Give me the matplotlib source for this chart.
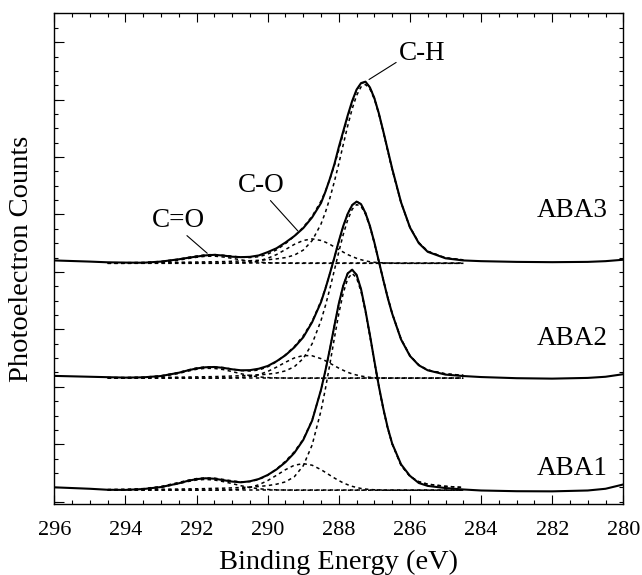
import matplotlib
matplotlib.use("Agg")
import matplotlib.pyplot as plt
import numpy as np
from matplotlib.ticker import MultipleLocator, NullFormatter

plt.rcParams['font.family'] = ['Liberation Serif', 'DejaVu Serif']

# binding energy grid of the measured spectra (eV)
energy = [296, 295, 294.5, 294, 293.5, 293, 292.5, 292.25, 292, 291.75, 291.5,
          291.25, 291, 290.75, 290.5, 290.25, 290, 289.75, 289.5, 289.25, 289,
          288.75, 288.5, 288.375, 288.25, 288.125, 288, 287.875, 287.75, 287.625,
          287.5, 287.375, 287.25, 287.125, 287, 286.875, 286.75, 286.625, 286.5,
          286.25, 286, 285.75, 285.5, 285, 284.5, 284, 283, 282, 281, 280.5, 280]

# energy range of the peak fit (294.5 ... 284.5)
fit_energy = energy[2:45]

# measured spectra (counts, offset per sample)
aba3 = [16.8, 16.72,
        16.67, 16.65, 16.64, 16.72, 16.88, 16.98, 17.07, 17.15, 17.19, 17.14,
        17.06, 17.03, 17.05, 17.15, 17.38, 17.65, 18.05, 18.5, 19.05, 19.8,
        20.8, 21.6, 22.5, 23.5, 24.7, 25.8, 26.9, 27.9, 28.7, 29.15,
        29.25, 28.85, 28.1, 27.05, 25.8, 24.5, 23.2, 20.85, 19.1, 18.0,
        17.4, 16.95, 16.8,
        16.75, 16.7, 16.68, 16.7, 16.75, 16.85]
aba2 = [8.76, 8.7,
        8.67, 8.64, 8.66, 8.75, 8.98, 9.14, 9.28, 9.36, 9.38, 9.32,
        9.22, 9.15, 9.16, 9.26, 9.45, 9.78, 10.2, 10.75, 11.45, 12.5,
        13.9, 14.85, 15.9, 17.0, 18.15, 19.2, 20.05, 20.65, 20.9, 20.72,
        20.1, 19.2, 18.05, 16.75, 15.45, 14.2, 13.1, 11.3, 10.15, 9.5,
        9.15, 8.85, 8.75,
        8.68, 8.6, 8.57, 8.62, 8.7, 8.88]
aba1 = [1.0, 0.9,
        0.83, 0.82, 0.88, 1.02, 1.28, 1.45, 1.57, 1.63, 1.6, 1.5,
        1.4, 1.35, 1.42, 1.58, 1.86, 2.25, 2.75, 3.4, 4.3, 5.65,
        7.8, 9.15, 10.65, 12.25, 13.8, 15.05, 15.9, 16.15, 15.8, 14.8,
        13.3, 11.6, 9.8, 8.05, 6.5, 5.15, 4.05, 2.6, 1.8, 1.3,
        1.1, 0.95, 0.85,
        0.78, 0.73, 0.72, 0.78, 0.9, 1.2]

# fit backgrounds
base3, base2, base1 = 16.6, 8.6, 0.8

# fitted components above background, on fit_energy
ch3 = [0.04, 0.04, 0.05, 0.06, 0.07, 0.08, 0.09, 0.1, 0.11, 0.12,
       0.14, 0.16, 0.18, 0.21, 0.25, 0.31, 0.4, 0.57, 0.92, 1.58,
       2.74, 3.57, 4.55, 5.69, 6.94, 8.27, 9.57, 10.75, 11.69, 12.29,
       12.45, 12.14, 11.43, 10.39, 9.16, 7.84, 6.54, 4.22, 2.51, 1.44,
       0.84, 0.38, 0.24]
co3 = [0, 0, 0, 0, 0, 0, 0, 0, 0, 0,
       0.01, 0.03, 0.07, 0.17, 0.35, 0.61, 0.96, 1.32, 1.59, 1.7,
       1.59, 1.47, 1.32, 1.14, 0.96, 0.78, 0.61, 0.47, 0.35, 0.25,
       0.17, 0.11, 0.07, 0.05, 0.03, 0.02, 0.01, 0, 0, 0,
       0, 0, 0]
cdo3 = [0, 0, 0.01, 0.07, 0.22, 0.33, 0.42, 0.49, 0.5, 0.44,
        0.35, 0.24, 0.15, 0.08, 0.04, 0.02, 0.01, 0, 0, 0] + [0] * 23

ch2 = [0.04, 0.04, 0.05, 0.06, 0.07, 0.08, 0.09, 0.1, 0.11, 0.13,
       0.15, 0.17, 0.2, 0.23, 0.28, 0.36, 0.51, 0.8, 1.37, 2.4,
       4.02, 5.07, 6.25, 7.52, 8.8, 10.01, 11.03, 11.76, 12.09, 11.97,
       11.42, 10.53, 9.4, 8.13, 6.85, 5.63, 4.51, 2.72, 1.57, 0.91,
       0.57, 0.3, 0.2]
co2 = [0, 0, 0, 0, 0, 0, 0, 0, 0, 0.01,
       0.02, 0.05, 0.12, 0.25, 0.47, 0.77, 1.11, 1.41, 1.58, 1.56,
       1.36, 1.21, 1.04, 0.87, 0.7, 0.55, 0.41, 0.3, 0.22, 0.15,
       0.1, 0.06, 0.04, 0.02, 0.01, 0, 0, 0, 0, 0,
       0, 0, 0]
cdo2 = [0, 0, 0.02, 0.11, 0.33, 0.49, 0.62, 0.69, 0.68, 0.6,
        0.46, 0.31, 0.18, 0.09, 0.04, 0.02, 0.01, 0, 0, 0] + [0] * 23

ch1 = [0.04, 0.05, 0.06, 0.07, 0.08, 0.09, 0.1, 0.11, 0.13, 0.14,
       0.16, 0.19, 0.22, 0.26, 0.32, 0.42, 0.58, 0.94, 1.7, 3.15,
       5.54, 7.09, 8.8, 10.59, 12.3, 13.74, 14.73, 15.1, 14.78, 13.84,
       12.42, 10.73, 8.95, 7.22, 5.66, 4.32, 3.23, 1.74, 0.96, 0.59,
       0.42, 0.27, 0.19]
co1 = [0, 0, 0, 0, 0, 0, 0, 0, 0, 0.01,
       0.03, 0.08, 0.19, 0.38, 0.67, 1.04, 1.43, 1.74, 1.85, 1.74,
       1.43, 1.24, 1.04, 0.85, 0.67, 0.51, 0.38, 0.27, 0.19, 0.12,
       0.08, 0.05, 0.03, 0.02, 0.01, 0, 0, 0, 0, 0,
       0, 0, 0]
cdo1 = [0, 0.01, 0.05, 0.19, 0.46, 0.6, 0.71, 0.75, 0.71, 0.6,
        0.46, 0.31, 0.19, 0.1, 0.05, 0.02, 0.01, 0, 0, 0] + [0] * 23

samples = [
    ("ABA3", aba3, base3, ch3, co3, cdo3),
    ("ABA2", aba2, base2, ch2, co2, cdo2),
    ("ABA1", aba1, base1, ch1, co1, cdo1),
]

fig = plt.figure(figsize=(6.42, 5.75), dpi=100)
ax = fig.add_axes([0.0846, 0.1230, 0.8863, 0.8536])

dots = dict(color='k', lw=1.1, ls=(0, (2.2, 2.2)))
fe = np.array(fit_energy)
for name, meas, base, ch, co, cdo in samples:
    ch, co, cdo = np.array(ch), np.array(co), np.array(cdo)
    ax.plot(fe, np.full(fe.size, base), **dots)
    for comp in (ch, co, cdo):
        ax.plot(fe, base + comp, **dots)
    ax.plot(fe, base + ch + co + cdo, **dots)
    ax.plot(energy, meas, color='k', lw=1.5)

# sample labels
label_y = {"ABA3": 19.8, "ABA2": 10.92, "ABA1": 1.86}
for name, *_ in samples:
    ax.text(280.45, label_y[name], name, ha='right', va='baseline', fontsize=19.5)

# peak labels
lead = dict(arrowstyle='-', lw=0.8, color='k', shrinkA=0, shrinkB=0)
ax.annotate("C-H", xy=(287.15, 29.4), xytext=(286.31, 30.78), fontsize=19.5,
            ha='left', va='baseline', arrowprops=dict(relpos=(0, 0.2), **lead))
ax.annotate("C=O", xy=(291.7, 17.3), xytext=(292.51, 19.14), fontsize=19.5,
            ha='center', va='baseline', arrowprops=dict(relpos=(0.6, 0), **lead))
ax.annotate("C-O", xy=(289.15, 18.85), xytext=(290.19, 21.58), fontsize=19.5,
            ha='center', va='baseline', arrowprops=dict(relpos=(0.65, 0), **lead))

ax.set_xlim(296, 280)
ax.set_ylim(-0.18, 34.0)
ax.xaxis.set_major_locator(MultipleLocator(2))
ax.xaxis.set_minor_locator(MultipleLocator(0.5))
ax.yaxis.set_major_locator(MultipleLocator(4))
ax.yaxis.set_minor_locator(MultipleLocator(1))
ax.yaxis.remove_overlapping_locs = False
ax.yaxis.set_major_formatter(NullFormatter())

ax.tick_params(which='both', direction='in', top=True, width=0.8)
ax.tick_params(axis='x', which='major', length=6.5, labelsize=16, pad=12)
ax.tick_params(axis='x', which='minor', length=3)
ax.tick_params(axis='y', which='major', length=7, right=False)
ax.tick_params(axis='y', which='minor', length=3.2, right=True)
for s in ax.spines.values():
    s.set_linewidth(1.0)

ax.set_xlabel("Binding Energy (eV)", fontsize=20.4, labelpad=7)
ax.set_ylabel("Photoelectron Counts", fontsize=20.5, labelpad=11)

fig.savefig("out.png", dpi=100)
